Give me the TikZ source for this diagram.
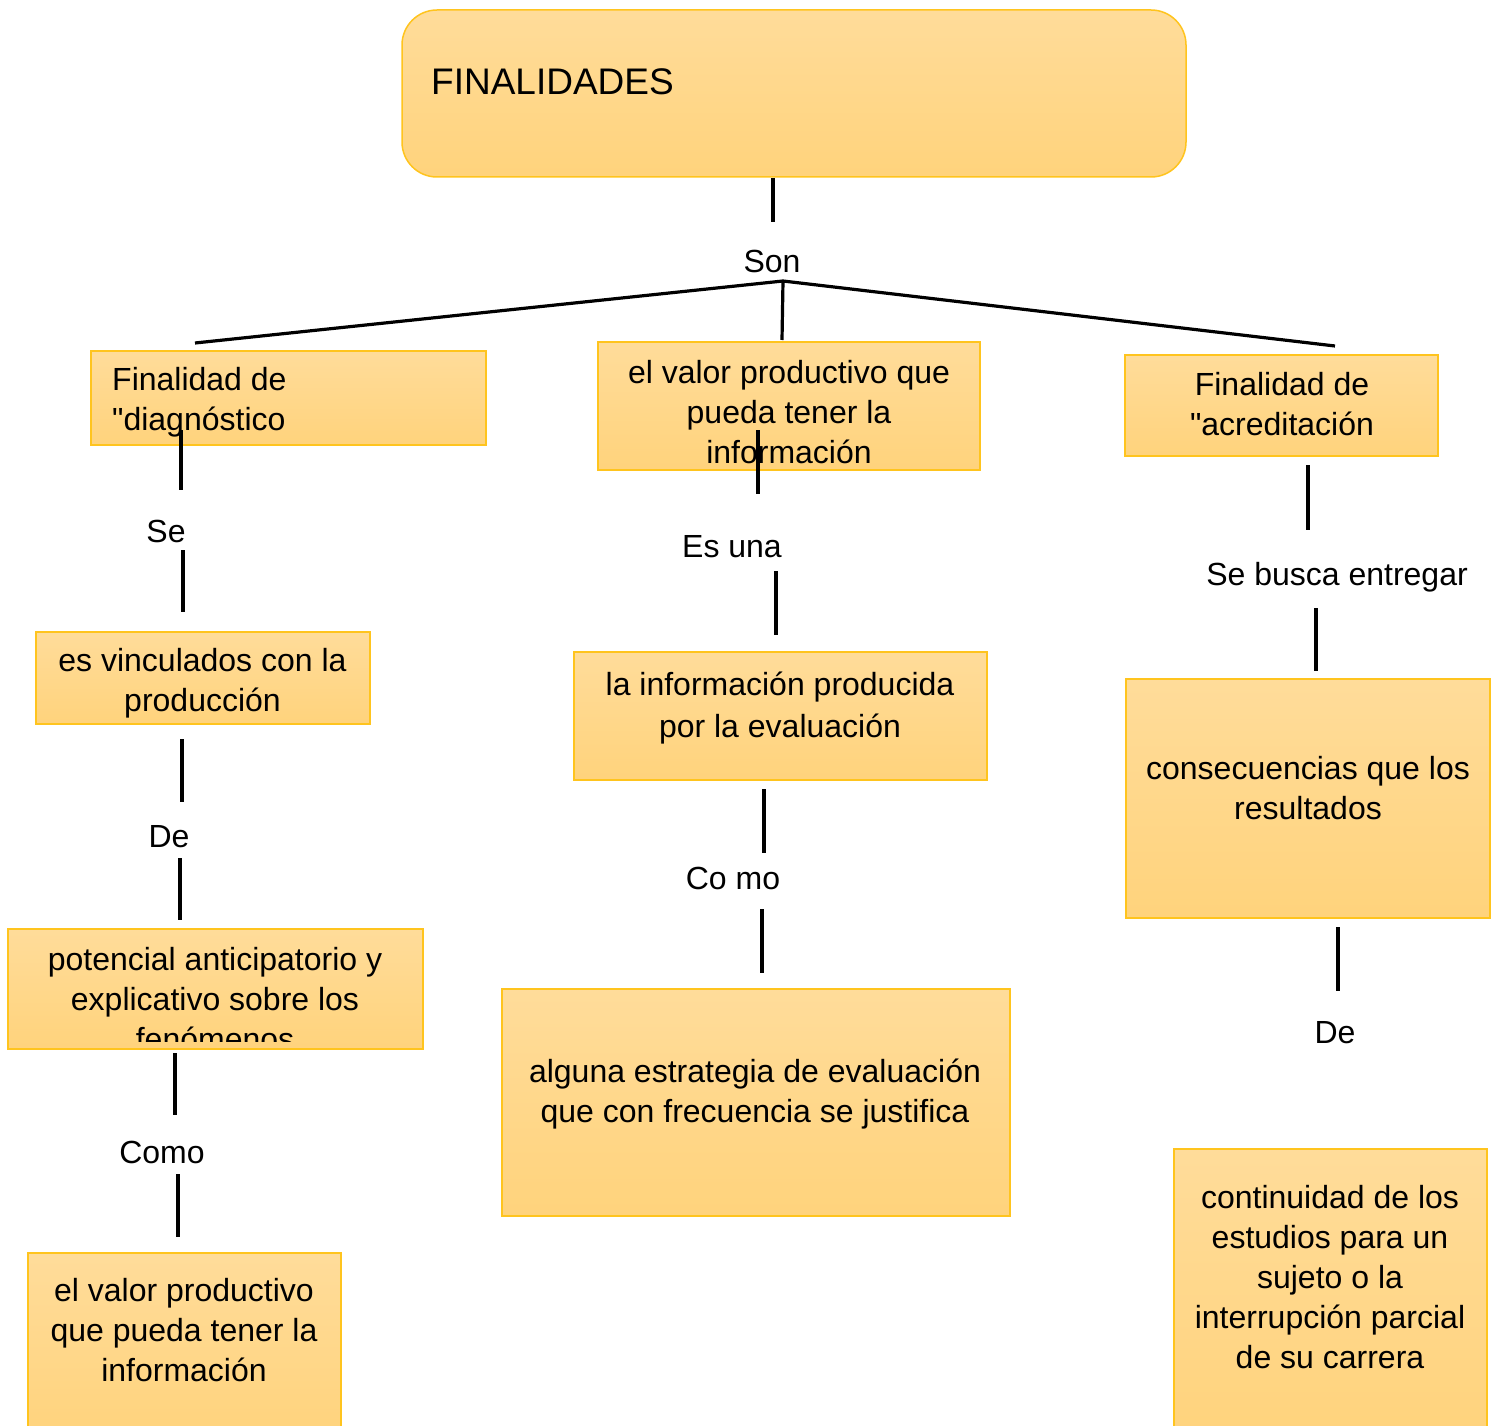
\documentclass[tikz,border=0pt]{standalone}
\usepackage{fontspec}
\setmainfont{Liberation Sans}[Ligatures=TeXOff]
\definecolor{boxtop}{RGB}{255,220,154}
\definecolor{boxbot}{RGB}{255,211,124}
\definecolor{boxline}{RGB}{255,196,30}
\begin{document}
\begin{tikzpicture}[x=1pt,y=-1pt,
  box/.style={draw=boxline,line width=1.5pt,top color=boxtop,bottom color=boxbot,
    inner sep=0pt,outer sep=0pt},
  txt/.style={inner sep=0pt,align=center,font=\fontsize{32}{40}\selectfont},
  lbl/.style={inner sep=0pt,font=\fontsize{32}{40}\selectfont},
  conn/.style={line width=3.2pt}]
\clip (0,0) rectangle (1497,1426);
\fill[white] (0,0) rectangle (1497,1426);

% boxes
\node[box,rounded corners=35pt,minimum width=784pt,minimum height=167pt] (b1) at (794,93.5) {};
\node[box,minimum width=395pt,minimum height=94pt] (b2) at (288.5,398) {};
\node[box,minimum width=382pt,minimum height=128pt] (b3) at (789,406) {};
\node[box,minimum width=313pt,minimum height=101pt] (b4) at (1281.5,405.5) {};
\node[box,minimum width=334pt,minimum height=92pt] (b5) at (203,678) {};
\node[box,minimum width=413pt,minimum height=128pt] (b6) at (780.5,716) {};
\node[box,minimum width=364pt,minimum height=239pt] (b7) at (1308,798.5) {};
\node[box,minimum width=415pt,minimum height=120pt] (b8) at (215.5,989) {};
\node[box,minimum width=508pt,minimum height=227pt] (b9) at (756,1102.5) {};
\node[box,minimum width=313pt,minimum height=187pt] (b10) at (184.5,1346.5) {};
\node[box,minimum width=313pt,minimum height=291pt] (b11) at (1330.5,1294.5) {};

% texts
\node[inner sep=0pt,anchor=base west,font=\fontsize{37}{44}\selectfont] (t1) at (431,95) {FINALIDADES};
\node[txt,align=left,anchor=west] (t2) at (112,402) {Finalidad de\\"diagnóstico};
\node[txt] (t3) at (789,412) {el valor productivo que\\pueda tener la\\información};
\node[txt] (t4) at (1282,404) {Finalidad de\\"acreditación};
\node[txt] (t5) at (202.5,683) {es vinculados con la\\producción};
\node[txt] (t6) at (780,708) {la información producida\\[2pt]por la evaluación};
\node[txt] (t7) at (1308,788) {consecuencias que los\\resultados};
\begin{scope}
\clip (8,929) rectangle (423,1041);
\node[txt] (t8) at (215,999) {potencial anticipatorio y\\explicativo sobre los\\fenómenos};
\end{scope}
\node[txt] (t9) at (755,1094) {alguna estrategia de evaluación\\que con frecuencia se justifica};
\node[txt] (t10) at (184,1330) {el valor productivo\\que pueda tener la\\información};
\node[txt] (t11) at (1330,1277) {continuidad de los\\estudios para un\\sujeto o la\\interrupción parcial\\de su carrera};

% labels
\node[lbl] (lson) at (772,261) {Son};
\node[lbl] (lse) at (166,531) {Se};
\node[lbl] (lde1) at (169,837) {De};
\node[lbl] (lcomo) at (162,1152) {Como};
\node[lbl] (lesuna) at (732,547) {Es una};
\node[lbl] (lcomo2) at (733,878) {Co mo};
\node[lbl] (lsebusca) at (1337,577) {Se busca entregar};
\node[lbl] (lde2) at (1335,1033) {De};

% connector end points
\coordinate (c0a) at (773,178); \coordinate (c0b) at (773,222);
\coordinate (hub) at (783,281);
\coordinate (fl) at (195,343); \coordinate (fr) at (1335,346); \coordinate (fm) at (782,340);
\coordinate (s1a) at (181,430); \coordinate (s1b) at (181,490);
\coordinate (s2a) at (183,550); \coordinate (s2b) at (183,612);
\coordinate (d1a) at (182,739); \coordinate (d1b) at (182,802);
\coordinate (d2a) at (180,858); \coordinate (d2b) at (180,920);
\coordinate (k1a) at (175,1053); \coordinate (k1b) at (175,1115);
\coordinate (k2a) at (178,1174); \coordinate (k2b) at (178,1237);
\coordinate (e1a) at (758,430); \coordinate (e1b) at (758,494);
\coordinate (e2a) at (776,571); \coordinate (e2b) at (776,635);
\coordinate (m1a) at (764,789); \coordinate (m1b) at (764,853);
\coordinate (m2a) at (762,909); \coordinate (m2b) at (762,973);
\coordinate (g1a) at (1308,465); \coordinate (g1b) at (1308,530);
\coordinate (g2a) at (1316,608); \coordinate (g2b) at (1316,671);
\coordinate (r1a) at (1338,927); \coordinate (r1b) at (1338,991);

% connectors
\draw[conn] (c0a) -- (c0b);
\draw[conn] (fl) -- (hub) -- (fr);
\draw[conn] (hub) -- (fm);
\draw[conn] (s1a) -- (s1b);
\draw[conn] (s2a) -- (s2b);
\draw[conn] (d1a) -- (d1b);
\draw[conn] (d2a) -- (d2b);
\draw[conn] (k1a) -- (k1b);
\draw[conn] (k2a) -- (k2b);
\draw[conn] (e1a) -- (e1b);
\draw[conn] (e2a) -- (e2b);
\draw[conn] (m1a) -- (m1b);
\draw[conn] (m2a) -- (m2b);
\draw[conn] (g1a) -- (g1b);
\draw[conn] (g2a) -- (g2b);
\draw[conn] (r1a) -- (r1b);
\end{tikzpicture}
\end{document}
